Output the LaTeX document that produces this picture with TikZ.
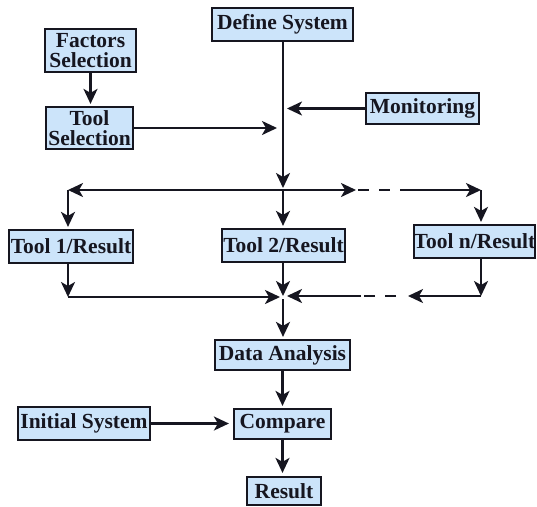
\documentclass[tikz,border=0pt]{standalone}
\usepackage{fontspec}
\setmainfont{Liberation Serif}
\usetikzlibrary{arrows.meta}
\definecolor{boxfill}{RGB}{204,228,250}
\definecolor{ink}{RGB}{22,22,32}
\begin{document}
\begin{tikzpicture}[x=1pt,y=-1pt,
  box/.style={draw=ink,line width=2.2pt,fill=boxfill,inner sep=0pt,align=center,
    font=\fontsize{21.5}{19.5}\selectfont\bfseries,text=ink},
  conn/.style={draw=ink,line width=2.2pt},
  arr/.style={conn,-{Stealth[length=15pt,width=14pt,inset=4pt]}},
  dsh/.style={conn,dash pattern=on 11pt off 10pt}]
\useasboundingbox[fill=white] (0,0) rectangle (537,506);
% boxes
\node[box,minimum width=141pt,minimum height=33pt] (def) at (282.5,24.5) {Define System};
\node[box,minimum width=91pt,minimum height=43pt] (fac) at (90.5,50.5) {Factors\\Selection};
\node[box,minimum width=87pt,minimum height=42pt] (tsel) at (89.5,128) {Tool\\Selection};
\node[box,minimum width=113pt,minimum height=31pt] (mon) at (422.5,108.5) {Monitoring};
\node[box,minimum width=124pt,minimum height=33pt] (t1) at (71,246.5) {Tool 1/Result};
\node[box,minimum width=123pt,minimum height=33pt] (t2) at (283.5,245.5) {Tool 2/Result};
\node[box,minimum width=119pt,minimum height=33pt] (tn) at (474.5,241.5) {Tool n/Result};
\node[box,minimum width=135pt,minimum height=30pt] (da) at (282.5,355) {Data Analysis};
\node[box,minimum width=97pt,minimum height=30pt] (cmp) at (282.5,424) {Compare};
\node[box,minimum width=132pt,minimum height=33pt] (init) at (84,423.5) {Initial System};
\node[box,minimum width=74pt,minimum height=28pt] (res) at (284,491) {Result};
% coordinates
\coordinate (j1) at (283,190);
\coordinate (j1a) at (283,188);
\coordinate (tsin) at (277,128);
\coordinate (monin) at (287,108.5);
\coordinate (l1) at (68,190);
\coordinate (r1) at (356,190);
\coordinate (r2) at (358,190);
\coordinate (r3) at (405,190);
\coordinate (r4) at (481,190);
\coordinate (l2) at (68,297);
\coordinate (c1) at (280,297);
\coordinate (c0) at (283,296);
\coordinate (r5) at (481,296);
\coordinate (r6) at (408,296);
\coordinate (r7) at (396,296);
\coordinate (r8) at (364,296);
\coordinate (r9) at (361,296);
\coordinate (c3) at (287,296);
\coordinate (c2) at (283,299);
% connectors
\draw[arr,shorten >=2pt] (fac.south) -- (fac.south |- tsel.north);
\draw[arr] (def.south -| j1) -- (j1a);
\draw[arr] (tsel.east) -- (tsin);
\draw[arr] (mon.west) -- (monin);
\draw[arr] (j1) -- (l1);
\draw[arr] (j1) -- (r1);
\draw[dsh] (r2) -- (r3);
\draw[arr] (r3) -- (r4);
\draw[arr,shorten >=2pt] (r4) -- (r4 |- tn.north);
\draw[arr,shorten >=2pt] (l1) -- (l1 |- t1.north);
\draw[arr,shorten >=2pt] (j1) -- (t2.north -| j1);
\draw[arr] (t1.south -| l2) -- (l2);
\draw[arr] (l2) -- (c1);
\draw[arr] (t2.south -| c0) -- (c0);
\draw[arr] (tn.south -| r5) -- (r5);
\draw[arr] (r5) -- (r6);
\draw[dsh] (r7) -- (r8);
\draw[arr] (r9) -- (c3);
\draw[arr,shorten >=2pt] (c2) -- (da.north -| c2);
\draw[arr,shorten >=2pt] (da.south) -- (cmp.north);
\draw[arr,shorten >=4pt] (init.east) -- (init.east -| cmp.west);
\draw[arr,shorten >=3pt] (cmp.south) -- (cmp.south |- res.north);
\end{tikzpicture}
\end{document}
